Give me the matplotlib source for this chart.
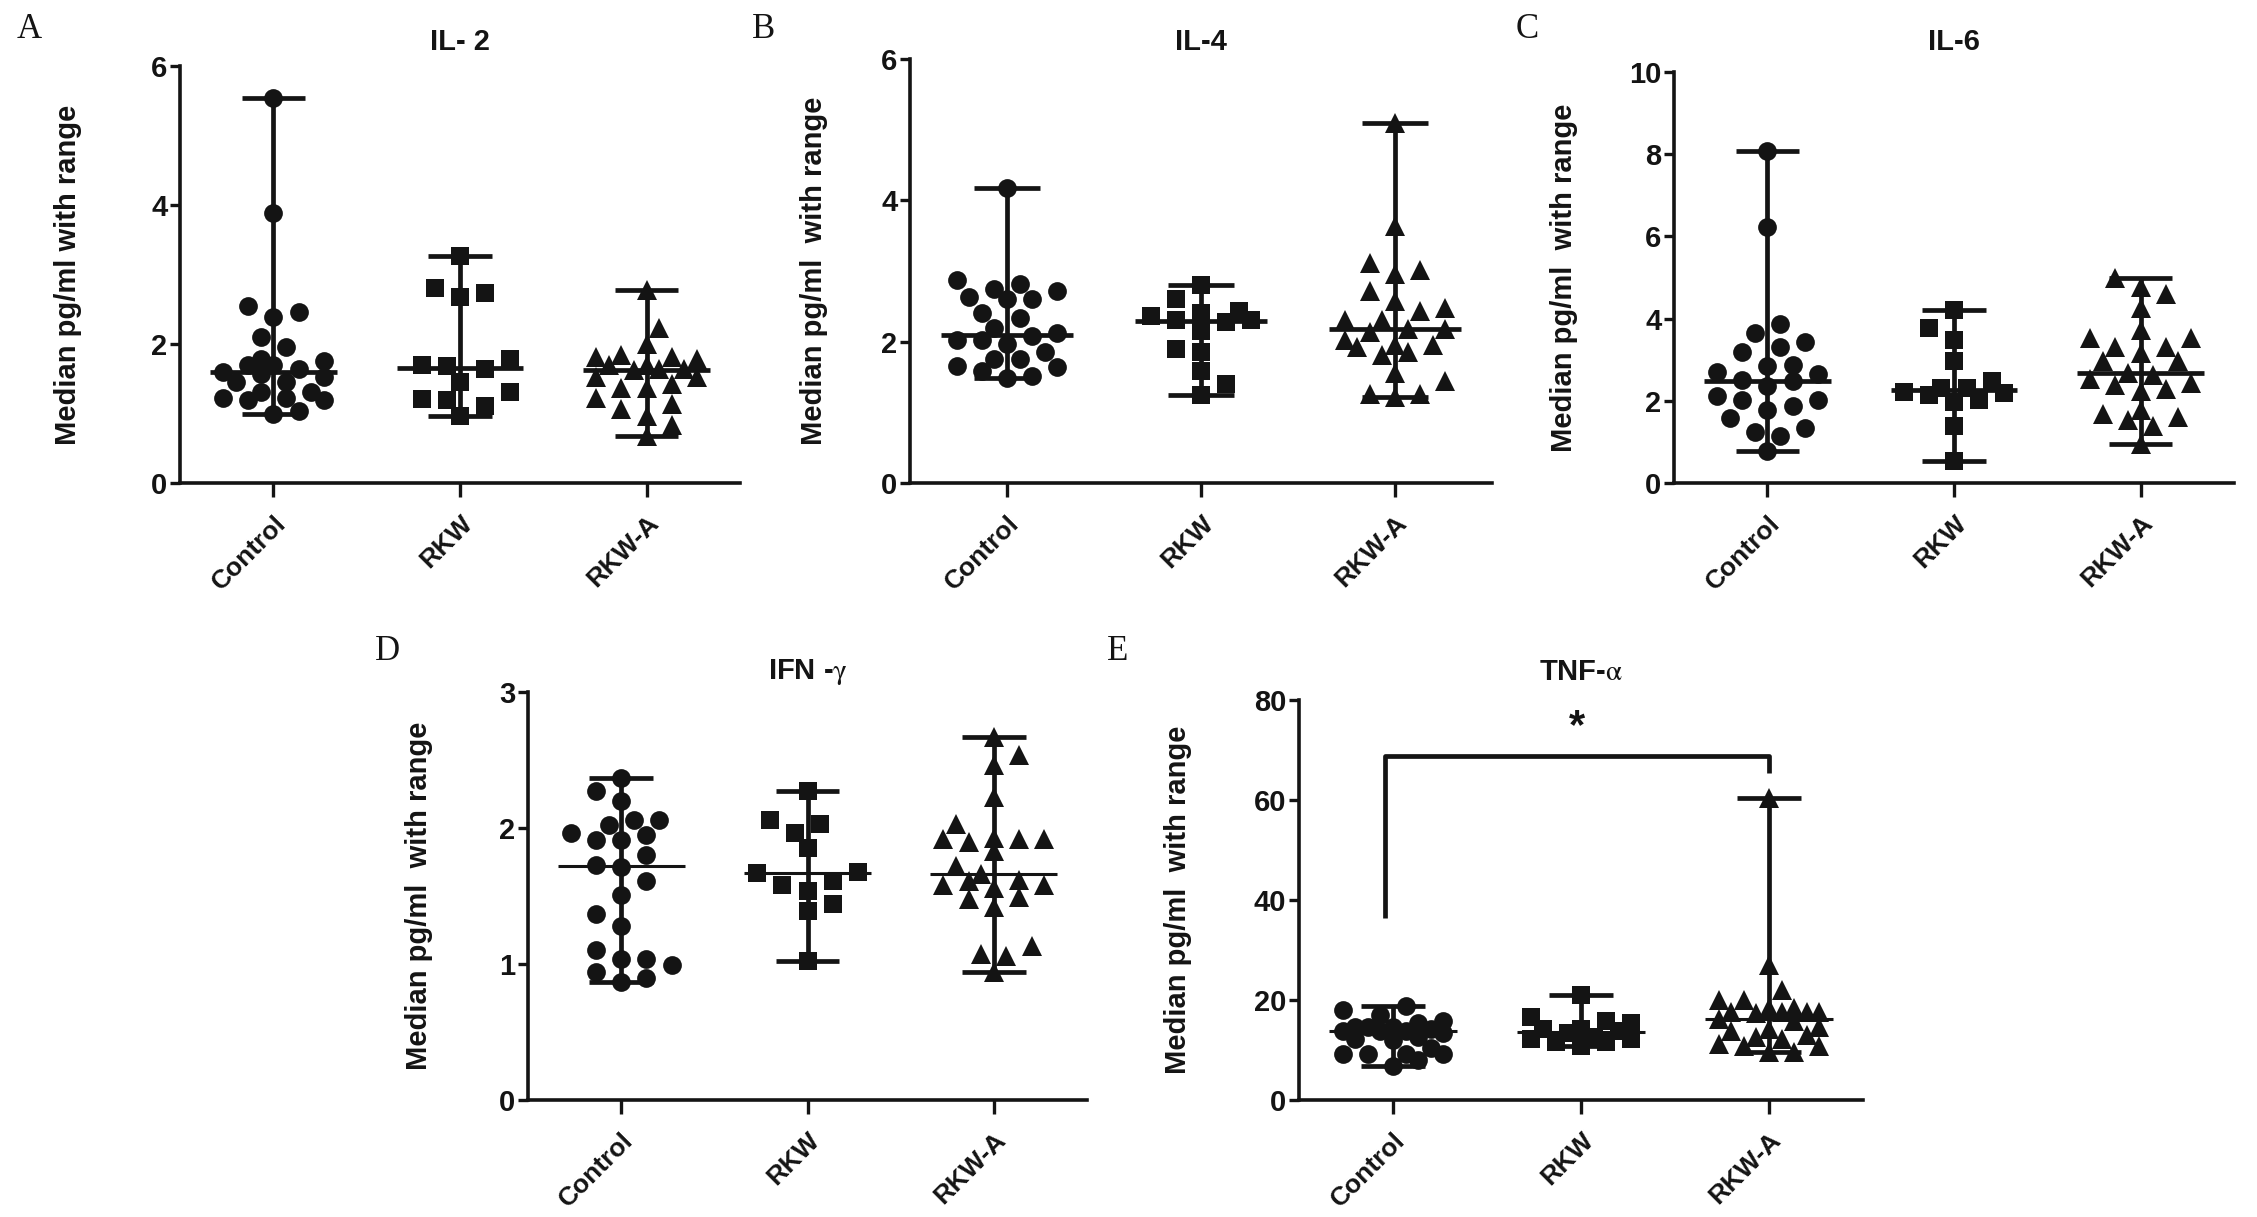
import matplotlib
matplotlib.use('Agg')
import matplotlib.pyplot as plt
from matplotlib import font_manager
import numpy as np

# ── Data (pg/ml) ──────────────────────────────────────────────────────────
groups = ['Control', 'RKW', 'RKW-A']

il2_control = [5.54, 3.88, 2.46, 2.39, 2.54, 2.10, 1.95, 1.78, 1.70, 1.70, 1.75, 1.64, 1.57,
               1.53, 1.59, 1.45, 1.45, 1.31, 1.31, 1.22, 1.20, 1.22, 1.20, 1.00, 1.03]
il2_rkw = [3.26, 2.81, 2.74, 2.67, 1.70, 1.78, 1.64, 1.68, 1.45, 1.31, 1.20, 1.21, 1.11, 0.96]
il2_rkwa = [2.77, 2.23, 2.00, 1.78, 1.84, 1.81, 1.81, 1.64, 1.70, 1.70, 1.64, 1.53, 1.62, 1.53,
            1.36, 1.42, 1.36, 1.22, 1.14, 1.06, 0.97, 0.83, 0.67]

il4_control = [4.18, 2.87, 2.81, 2.74, 2.71, 2.63, 2.60, 2.60, 2.41, 2.33, 2.08, 2.12, 2.19,
               2.03, 1.97, 2.03, 1.86, 1.75, 1.75, 1.65, 1.64, 1.59, 1.51, 1.49]
il4_rkw = [2.80, 2.60, 2.44, 2.40, 2.36, 2.30, 2.30, 2.28, 2.15, 1.89, 1.86, 1.59, 1.40, 1.25]
il4_rkwa = [5.10, 3.64, 3.12, 2.96, 3.01, 2.71, 2.58, 2.47, 2.44, 2.30, 2.30, 2.14, 2.18, 2.18,
            1.95, 2.03, 1.95, 1.86, 1.92, 1.81, 1.56, 1.45, 1.26, 1.26, 1.21]

il6_control = [8.09, 6.24, 3.88, 3.64, 3.42, 3.30, 3.18, 2.87, 2.85, 2.70, 2.66, 2.51, 2.36,
               2.47, 2.11, 2.01, 2.03, 1.77, 1.87, 1.58, 1.24, 1.34, 1.15, 0.77]
il6_rkw = [4.21, 3.78, 3.49, 2.97, 2.49, 2.20, 2.30, 2.30, 2.22, 2.15, 2.01, 1.96, 1.39, 0.53]
il6_rkwa = [4.98, 4.78, 4.59, 4.26, 3.54, 3.54, 3.73, 3.30, 3.30, 3.16, 2.97, 2.97, 2.68, 2.63,
            2.54, 2.39, 2.44, 2.25, 2.28, 1.77, 1.61, 1.67, 1.53, 1.39, 0.96]

ifn_control = [2.37, 2.27, 2.20, 2.06, 2.06, 2.02, 1.96, 1.91, 1.91, 1.95, 1.80, 1.73, 1.71,
               1.61, 1.51, 1.37, 1.28, 1.10, 1.04, 1.04, 0.99, 0.94, 0.90, 0.87]
ifn_rkw = [2.27, 2.06, 2.03, 1.96, 1.85, 1.67, 1.68, 1.61, 1.58, 1.54, 1.44, 1.39, 1.02]
ifn_rkwa = [2.67, 2.54, 2.46, 2.23, 2.03, 1.92, 1.92, 1.93, 1.90, 1.92, 1.83, 1.72, 1.66, 1.61,
            1.62, 1.58, 1.58, 1.56, 1.49, 1.48, 1.42, 1.13, 1.06, 1.07, 0.94]

tnf_control = [18.9, 18.1, 17.0, 15.8, 15.4, 13.9, 14.7, 13.5, 14.7, 14.3, 14.7, 13.9, 13.9,
               12.3, 12.0, 12.7, 9.3, 9.3, 9.3, 9.3, 10.4, 8.1, 6.8]
tnf_rkw = [21.0, 16.6, 15.8, 15.4, 13.9, 14.3, 14.3, 13.5, 12.3, 12.7, 12.3, 11.6, 10.8, 11.6]
tnf_rkwa = [60.5, 27.0, 22.0, 20.1, 20.1, 17.7, 18.5, 17.7, 17.7, 18.5, 17.7, 17.4, 16.2, 15.8,
            13.9, 14.7, 14.3, 12.7, 13.1, 11.2, 10.8, 10.8, 9.6, 9.6, 12.3]

panels = [
    # letter, title, data, ylim, yticks, ylabel
    ('A', 'IL- 2', [il2_control, il2_rkw, il2_rkwa], 6, [0, 2, 4, 6],
     'Median pg/ml with range'),
    ('B', 'IL-4', [il4_control, il4_rkw, il4_rkwa], 6, [0, 2, 4, 6],
     'Median pg/ml  with range'),
    ('C', 'IL-6', [il6_control, il6_rkw, il6_rkwa], 10, [0, 2, 4, 6, 8, 10],
     'Median pg/ml  with range'),
    ('D', r'IFN -$\mathrm{\gamma}$', [ifn_control, ifn_rkw, ifn_rkwa], 3, [0, 1, 2, 3],
     'Median pg/ml  with range'),
    ('E', r'TNF-$\mathrm{\alpha}$', [tnf_control, tnf_rkw, tnf_rkwa], 80, [0, 20, 40, 60, 80],
     'Median pg/ml  with range'),
]

# ── Layout (pixels of a 2257x1217 canvas) ─────────────────────────────────
W, H, DPI = 2257, 1217, 100
# left, right, top, bottom of each axes box, ylabel offset, letter position
boxes = {
    'A': (180, 740, 66, 483, 98, (29, 29)),
    'B': (910, 1492, 59, 483, 82, (764, 29)),
    'C': (1674, 2234, 72, 483, 96, (1527, 29)),
    'D': (528, 1087, 692, 1100, 95, (387, 651)),
    'E': (1299, 1863, 700, 1100, 107, (1118, 651)),
}


def has_font(name):
    try:
        font_manager.findfont(name, fallback_to_default=False)
        return True
    except Exception:
        return False


NARROW = 'Liberation Sans Narrow' if has_font('Liberation Sans Narrow') else 'Liberation Sans'
SANS = 'Liberation Sans'
plt.rcParams['font.family'] = SANS
plt.rcParams['mathtext.fontset'] = 'stix'

INK = '#141414'
MARKERS = ['o', 's', '^']
MSIZE = [13.5, 12.5, 14.5]   # points
LW = 3.4
SLOT_PX = 12.6               # horizontal slot spacing of the dot plot
MAX_SLOT = 4


def dot_offsets(ax, values, xc, diam_px):
    """Prism-like scatter: each point takes the free slot nearest the centre."""
    trans = ax.transData
    vals = np.asarray(values, dtype=float)
    order = np.argsort(vals)
    placed = []
    offs = np.zeros(len(vals))
    slots = [0]
    for k in range(1, MAX_SLOT + 1):
        slots += [k, -k]
    flip = 1
    for i in order:
        y0 = trans.transform((xc, vals[i]))[1]
        best, best_d = None, -1
        for s in slots:
            s = s * flip
            px = s * SLOT_PX
            dmin = min([np.hypot(px - qx, y0 - qy) for qx, qy in placed] or [1e9])
            if dmin >= diam_px * 1.12:
                best = s
                break
            if dmin > best_d:
                best, best_d = s, dmin
        if best != 0:
            flip = -flip
        placed.append((best * SLOT_PX, y0))
        offs[i] = best * SLOT_PX
    inv = trans.inverted()
    x_per_px = inv.transform((1, 0))[0] - inv.transform((0, 0))[0]
    return xc + offs * x_per_px


fig = plt.figure(figsize=(W / DPI, H / DPI), dpi=DPI, facecolor='white')

for letter, title, data, ymax, yticks, ylabel in panels:
    l, r, t, b, lab_off, (lx, ly) = boxes[letter]
    ax = fig.add_axes([l / W, 1 - b / H, (r - l) / W, (b - t) / H])
    ax.set_xlim(-0.5, 2.5)
    ax.set_ylim(0, ymax)
    for s in ['top', 'right']:
        ax.spines[s].set_visible(False)
    for s in ['left', 'bottom']:
        ax.spines[s].set_linewidth(2.6)
        ax.spines[s].set_color(INK)
        ax.spines[s].set_capstyle('projecting')

    med_lw = 2.2 if letter in ('D', 'E') else LW
    for i, vals in enumerate(data):
        xs = dot_offsets(ax, vals, i, 17.0)
        ax.plot(xs, vals, linestyle='none', marker=MARKERS[i], markersize=MSIZE[i],
                color=INK, markeredgewidth=0, zorder=3)
        lo, hi, med = min(vals), max(vals), np.median(vals)
        ax.plot([i, i], [lo, hi], color=INK, lw=LW, solid_capstyle='butt', zorder=4)
        ax.plot([i - 0.17, i + 0.17], [lo, lo], color=INK, lw=LW, solid_capstyle='butt', zorder=4)
        ax.plot([i - 0.17, i + 0.17], [hi, hi], color=INK, lw=LW, solid_capstyle='butt', zorder=4)
        ax.plot([i - 0.34, i + 0.34], [med, med], color=INK, lw=med_lw,
                solid_capstyle='butt', zorder=4)

    ax.set_yticks(yticks)
    ax.set_yticklabels([str(v) for v in yticks], fontfamily=NARROW, fontweight='bold',
                       fontsize=21, color=INK)
    ax.set_xticks(range(3))
    ax.set_xticklabels(groups, rotation=45, ha='right', rotation_mode='anchor',
                       fontfamily=SANS, fontweight='bold', fontsize=19, color=INK)
    ax.tick_params(axis='y', length=7, width=2.4, pad=2, color=INK)
    ax.tick_params(axis='x', length=10, width=2.4, pad=10, color=INK)

    ax.set_ylabel(ylabel, fontsize=21, fontweight='bold', color=INK)
    ax.yaxis.set_label_coords(-lab_off / (r - l), 0.5)

    fig.text((l + r) / 2 / W, 1 - (42 if t < 300 else 672) / H, title,
             ha='center', va='center', fontsize=21, fontweight='bold',
             fontfamily=NARROW, color=INK)
    fig.text(lx / W, 1 - ly / H, letter, ha='center', va='center', fontsize=25,
             fontfamily='Liberation Serif', color=INK)

    if letter == 'E':
        # significance bracket Control vs RKW-A
        ax.plot([-0.04, -0.04, 2.0, 2.0], [36.5, 68.8, 68.8, 65.5], color=INK, lw=LW,
                solid_capstyle='butt', zorder=4)
        ax.text(0.98, 70.5, '*', ha='center', va='bottom', fontsize=30,
                fontweight='bold', color=INK)

fig.savefig('out.png', dpi=DPI, facecolor='white')
